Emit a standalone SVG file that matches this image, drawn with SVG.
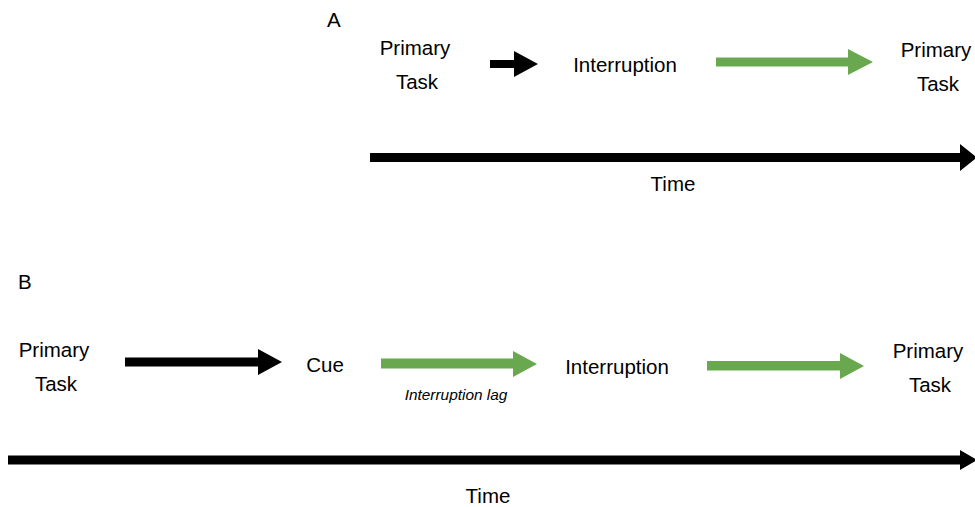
<svg xmlns="http://www.w3.org/2000/svg" width="975" height="507" viewBox="0 0 975 507">
<style>
text{font-family:"Liberation Sans",Arial,sans-serif;font-size:20.5px;fill:#000;text-anchor:middle}
.lbl{text-anchor:start}
.it{font-style:italic;font-size:15.4px}
.blk{fill:#000}
.grn{fill:#6AA84F}
</style>
<rect width="975" height="507" fill="#fff"/>
<g id="labels">
<text class="lbl" x="327" y="27">A</text>
<text class="lbl" x="18" y="289">B</text>
</g>
<g id="nodeA1"><text x="415" y="55">Primary</text><text x="417" y="89">Task</text></g>
<g id="nodeA2"><text x="625" y="72">Interruption</text></g>
<g id="nodeA3"><text x="936" y="57">Primary</text><text x="938" y="91">Task</text></g>
<g id="timeA"><text x="673" y="191">Time</text></g>
<g id="nodeB1"><text x="54" y="357">Primary</text><text x="56" y="391">Task</text></g>
<g id="nodeB2"><text x="325" y="372">Cue</text></g>
<g id="nodeB3"><text x="617" y="374">Interruption</text></g>
<g id="nodeB4"><text x="928" y="358">Primary</text><text x="930" y="392">Task</text></g>
<g id="lagLabel"><text class="it" x="456" y="400">Interruption lag</text></g>
<g id="timeB"><text x="488" y="503">Time</text></g>
<g id="connectors">
<polygon class="blk" points="490,60 514,60 514,51 538,64 514,77 514,68 490,68"/>
<polygon class="grn" points="716,57.5 848,57.5 848,49 873,62 848,75 848,66.5 716,66.5"/>
<polygon class="blk" points="370,153 960,153 960,144 977,157.5 960,171 960,162 370,162"/>
<polygon class="blk" points="125,357.5 258,357.5 258,349 282,362 258,375 258,366.5 125,366.5"/>
<polygon class="grn" points="381,358.5 513,358.5 513,351 537,364 513,377 513,368.5 381,368.5"/>
<polygon class="grn" points="707,361 840,361 840,353 864,366 840,379 840,370.5 707,370.5"/>
<polygon class="blk" points="8,455.5 960,455.5 960,450 977,460 960,470 960,464.5 8,464.5"/>
</g>
</svg>
